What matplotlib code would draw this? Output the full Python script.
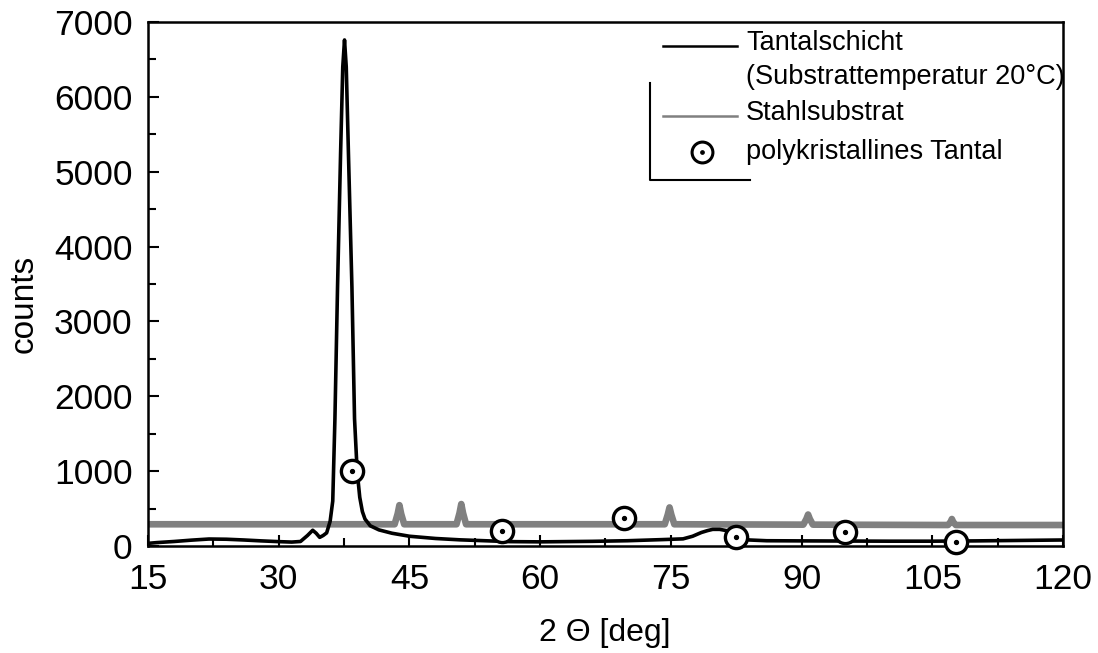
import matplotlib
matplotlib.use("Agg")
import matplotlib.pyplot as plt
from matplotlib.lines import Line2D

plt.rcParams['font.family'] = ['Liberation Sans', 'DejaVu Sans']

# Tantalschicht (black)
ta_x = [15, 16, 18, 20, 22, 24, 26, 28, 30, 31.5, 32.5, 33.3, 33.9, 34.3, 34.7, 35.1, 35.5,
        35.9, 36.2, 36.45, 36.75, 37.1, 37.35, 37.55, 37.75, 38.0, 38.4, 38.7, 39.0, 39.3,
        39.6, 39.9, 40.5, 41.5, 43, 45, 48, 50.8, 56.5, 60, 66, 70, 74, 76.4, 77.5, 78.5,
        79.2, 79.8, 80.6, 81.4, 82.3, 83.2, 84, 86, 90, 95, 100, 105, 110, 115, 120]
ta_y = [35, 45, 60, 78, 93, 90, 80, 68, 58, 52, 60, 140, 210, 170, 115, 140, 175,
        330, 600, 1700, 3460, 5250, 6400, 6760, 6400, 5250, 3460, 1700, 1000, 650,
        460, 360, 270, 215, 170, 130, 100, 82, 58, 55, 62, 70, 85, 95, 130, 180,
        205, 222, 222, 205, 160, 110, 80, 70, 68, 66, 64, 64, 68, 74, 80]

# Stahlsubstrat (grey)
st_x = [15, 30, 43.3, 43.65, 43.85, 44.05, 44.4, 50.4, 50.75, 50.95, 51.15, 51.5,
        60, 74.3, 74.65, 74.85, 75.05, 75.4, 90.2, 90.55, 90.75, 90.95, 91.3,
        106.8, 107.1, 107.25, 107.4, 107.7, 120]
st_y = [290, 290, 290, 430, 545, 430, 290, 290, 440, 560, 440, 290,
        290, 290, 420, 515, 420, 290, 285, 360, 420, 360, 285,
        280, 320, 360, 320, 280, 280]

# polykristallines Tantal reference markers
ref_x = [38.4, 55.6, 69.6, 82.5, 95.0, 107.7]
ref_y = [1000, 200, 370, 120, 185, 55]

x_ticks = [15, 30, 45, 60, 75, 90, 105, 120]
y_ticks = [0, 1000, 2000, 3000, 4000, 5000, 6000, 7000]

fig = plt.figure(figsize=(10.98, 6.53), dpi=100)
ax = fig.add_axes([0.1348, 0.1639, 0.8333, 0.8024])

ax.plot(st_x, st_y, color='#808080', lw=4.8, solid_joinstyle='round', zorder=2)
ax.plot(ta_x, ta_y, color='black', lw=2.6, solid_joinstyle='round', zorder=3)
ax.plot(ref_x, ref_y, ls='none', marker='o', ms=16, mfc='white', mec='black', mew=2.4,
        clip_on=False, zorder=5)
ax.plot(ref_x, ref_y, ls='none', marker='o', ms=2.8, mfc='black', mec='black',
        clip_on=False, zorder=6)

ax.set_xlim(15, 120)
ax.set_ylim(0, 7000)
ax.set_xticks(x_ticks)
ax.set_yticks(y_ticks)
ax.set_xticks([22.5 + 15 * i for i in range(7)], minor=True)
ax.set_yticks([500 + 1000 * i for i in range(7)], minor=True)
ax.tick_params(which='both', direction='in', width=1.5, labelsize=25.5)
ax.tick_params(which='major', length=8)
ax.tick_params(which='minor', length=6)
ax.tick_params(axis='x', pad=12)
ax.tick_params(axis='y', pad=11)
for s in ax.spines.values():
    s.set_linewidth(1.8)

ax.set_xlabel('2 \u0398 [deg]', fontsize=23)
ax.set_ylabel('counts', fontsize=24)
ax.xaxis.set_label_coords(0.4995, -0.137)
ax.yaxis.set_label_coords(-0.118, 0.462)

# legend (drawn manually)
T = ax.transAxes
ax.add_line(Line2D([0.5628, 0.6437], [0.9542, 0.9542], color='black', lw=1.8, transform=T))
ax.add_line(Line2D([0.5628, 0.6437], [0.8206, 0.8206], color='#808080', lw=1.8, transform=T))
ax.plot([0.6055], [0.7519], marker='o', ms=15, mfc='white', mec='black', mew=2.2, transform=T)
ax.plot([0.6055], [0.7519], marker='o', ms=2.4, mfc='black', mec='black', transform=T)
fs = 19.5
ax.text(0.6536, 0.9600, 'Tantalschicht', transform=T, fontsize=fs, va='center', ha='left')
ax.text(0.6536, 0.8950, '(Substrattemperatur 20\u00b0C)', transform=T, fontsize=fs, va='center', ha='left')
ax.text(0.6536, 0.8270, 'Stahlsubstrat', transform=T, fontsize=fs, va='center', ha='left')
ax.text(0.6536, 0.7519, 'polykristallines Tantal', transform=T, fontsize=fs, va='center', ha='left')
ax.add_line(Line2D([0.5486, 0.5486, 0.6579], [0.8836, 0.6985, 0.6985], color='black', lw=1.5, transform=T))

fig.savefig('out.png', dpi=100)
